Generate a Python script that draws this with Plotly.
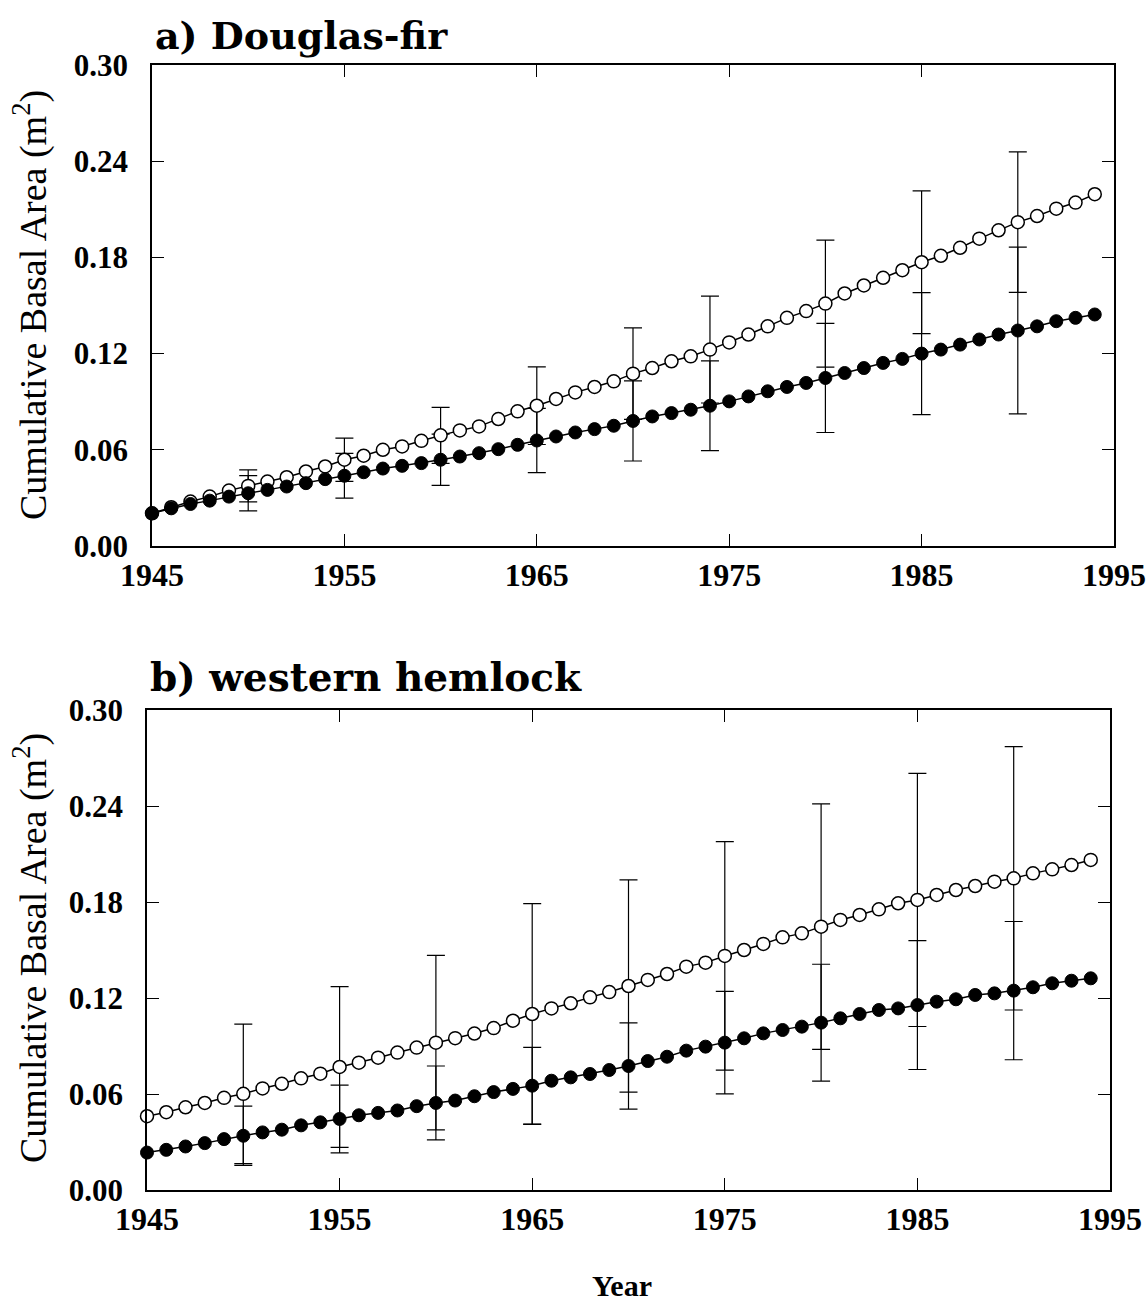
import plotly.graph_objects as go

years = list(range(1945, 1995))

# a) Douglas-fir
a_open = [0.0204, 0.0242, 0.0277, 0.0308, 0.0346, 0.0375, 0.0402, 0.0429, 0.0465, 0.0496,
          0.0538, 0.0563, 0.0600, 0.0621, 0.0656, 0.0690, 0.0721, 0.0746, 0.0792, 0.0840,
          0.0875, 0.0917, 0.0958, 0.0992, 0.1027, 0.1075, 0.1110, 0.1152, 0.1183, 0.1225,
          0.1270, 0.1319, 0.1370, 0.1423, 0.1465, 0.1512, 0.1575, 0.1625, 0.1673, 0.1720,
          0.1770, 0.1810, 0.1860, 0.1917, 0.1969, 0.2020, 0.2058, 0.2104, 0.2142, 0.2194]
a_filled = [0.0204, 0.0235, 0.0262, 0.0283, 0.0308, 0.0329, 0.0350, 0.0371, 0.0392, 0.0417,
            0.0438, 0.0460, 0.0483, 0.0500, 0.0517, 0.0538, 0.0558, 0.0579, 0.0604, 0.0631,
            0.0658, 0.0683, 0.0708, 0.0729, 0.0750, 0.0780, 0.0808, 0.0829, 0.0850, 0.0875,
            0.0902, 0.0933, 0.0965, 0.0992, 0.1017, 0.1048, 0.1079, 0.1110, 0.1142, 0.1167,
            0.1200, 0.1225, 0.1256, 0.1288, 0.1319, 0.1344, 0.1370, 0.1402, 0.1423, 0.1444]
a_err_years = [1950, 1955, 1960, 1965, 1970, 1974, 1980, 1985, 1990]
a_err_open = [0.010, 0.0135, 0.0175, 0.0242, 0.0285, 0.0333, 0.0396, 0.0445, 0.0438]
a_err_filled = [0.011, 0.0140, 0.0160, 0.0200, 0.0250, 0.0280, 0.0340, 0.0380, 0.0520]

# b) western hemlock
b_open = [0.0461, 0.0486, 0.0517, 0.0544, 0.0576, 0.0601, 0.0635, 0.0664, 0.0698, 0.0727,
          0.0769, 0.0796, 0.0827, 0.0859, 0.0890, 0.0921, 0.0949, 0.0978, 0.1012, 0.1058,
          0.1100, 0.1135, 0.1167, 0.1204, 0.1237, 0.1275, 0.1313, 0.1350, 0.1396, 0.1421,
          0.1463, 0.1500, 0.1538, 0.1579, 0.1604, 0.1646, 0.1688, 0.1719, 0.1754, 0.1792,
          0.1813, 0.1844, 0.1875, 0.1900, 0.1927, 0.1948, 0.1979, 0.2004, 0.2031, 0.2063]
b_filled = [0.0234, 0.0251, 0.0272, 0.0293, 0.0318, 0.0339, 0.0360, 0.0377, 0.0404, 0.0423,
            0.0444, 0.0467, 0.0482, 0.0497, 0.0524, 0.0544, 0.0559, 0.0586, 0.0612, 0.0632,
            0.0652, 0.0683, 0.0704, 0.0725, 0.0750, 0.0775, 0.0806, 0.0833, 0.0871, 0.0896,
            0.0921, 0.0948, 0.0979, 0.1000, 0.1021, 0.1046, 0.1073, 0.1100, 0.1125, 0.1135,
            0.1156, 0.1177, 0.1192, 0.1219, 0.1229, 0.1246, 0.1267, 0.1292, 0.1308, 0.1323]
b_err_years = [1950, 1955, 1960, 1965, 1970, 1975, 1980, 1985, 1990]
b_err_open = [0.0436, 0.0502, 0.0545, 0.0690, 0.0663, 0.0714, 0.0767, 0.0791, 0.0823]
b_err_filled = [0.0185, 0.0212, 0.0231, 0.0240, 0.0270, 0.0320, 0.0365, 0.0403, 0.0432]

x_ticks = [1945, 1955, 1965, 1975, 1985, 1995]
y_ticks = [0.00, 0.06, 0.12, 0.18, 0.24, 0.30]

W, H = 1148, 1304
fig = go.Figure()

panels = [
    ("x", "y", a_open, a_filled, a_err_years, a_err_open, a_err_filled),
    ("x2", "y2", b_open, b_filled, b_err_years, b_err_open, b_err_filled),
]

for xa, ya, op, fl, ey, eo, ef in panels:
    for series, errs in ((op, eo), (fl, ef)):
        yy = [series[years.index(v)] for v in ey]
        fig.add_trace(go.Scatter(
            x=ey, y=yy, mode="markers", xaxis=xa, yaxis=ya,
            marker=dict(size=2, color="rgba(0,0,0,0)"),
            error_y=dict(type="data", array=errs, visible=True, color="black",
                         thickness=1.2, width=9),
            showlegend=False, hoverinfo="skip", cliponaxis=False))
    fig.add_trace(go.Scatter(
        x=years, y=op, mode="lines+markers", xaxis=xa, yaxis=ya,
        line=dict(color="black", width=1.5),
        marker=dict(symbol="circle", size=13, color="white",
                    line=dict(color="black", width=1.5)),
        showlegend=False, cliponaxis=False))
    fig.add_trace(go.Scatter(
        x=years, y=fl, mode="lines+markers", xaxis=xa, yaxis=ya,
        line=dict(color="black", width=1.5),
        marker=dict(symbol="circle", size=13, color="black",
                    line=dict(color="black", width=1)),
        showlegend=False, cliponaxis=False))

tickfont_x = dict(family="Liberation Serif", size=32, color="black", weight="bold")
tickfont_y = dict(family="Liberation Serif", size=31, color="black", weight="bold")

def xaxis(domain, anchor):
    return dict(domain=domain, anchor=anchor, range=[1945, 1995], tickvals=x_ticks,
                ticks="inside", ticklen=12, tickwidth=1.2, tickcolor="black",
                showline=True, linecolor="black", linewidth=1.5, mirror="allticks",
                showgrid=False, zeroline=False, tickfont=tickfont_x,
                ticklabelstandoff=0, automargin=False)

def yaxis(domain, anchor):
    return dict(domain=domain, anchor=anchor, range=[0, 0.30], tickvals=y_ticks,
                tickformat=".2f", ticks="inside", ticklen=12, tickwidth=1.2,
                tickcolor="black", showline=True, linecolor="black", linewidth=1.5,
                mirror="allticks", showgrid=False, zeroline=False, tickfont=tickfont_y,
                ticklabelstandoff=16, automargin=False)

fig.update_layout(
    width=W, height=H,
    margin=dict(l=0, r=0, t=0, b=0),
    paper_bgcolor="white", plot_bgcolor="white",
    font=dict(family="Liberation Serif", color="black"),
    xaxis=xaxis([152 / W, 1114 / W], "y"),
    yaxis=yaxis([1 - 546 / H, 1 - 65 / H], "x"),
    xaxis2=xaxis([147 / W, 1110 / W], "y2"),
    yaxis2=yaxis([1 - 1190 / H, 1 - 710 / H], "x2"),
    annotations=[
        dict(text="a) Douglas-fir", x=153 / W, y=1 - 35 / H, xref="paper", yref="paper",
             xanchor="left", yanchor="middle", showarrow=False,
             font=dict(family="DejaVu Serif", size=38, color="black", weight="bold")),
        dict(text="b) western hemlock", x=148 / W, y=1 - 677 / H, xref="paper", yref="paper",
             xanchor="left", yanchor="middle", showarrow=False,
             font=dict(family="DejaVu Serif", size=39, color="black", weight="bold")),
        dict(text="Cumulative Basal Area (m<sup>2</sup>)", x=30 / W, y=1 - 305 / H,
             xref="paper", yref="paper", xanchor="center", yanchor="middle",
             textangle=-90, showarrow=False,
             font=dict(family="Liberation Serif", size=38, color="black")),
        dict(text="Cumulative Basal Area (m<sup>2</sup>)", x=30 / W, y=1 - 948 / H,
             xref="paper", yref="paper", xanchor="center", yanchor="middle",
             textangle=-90, showarrow=False,
             font=dict(family="Liberation Serif", size=38, color="black")),
        dict(text="<b>Year</b>", x=622 / W, y=1 - 1285 / H, xref="paper", yref="paper",
             xanchor="center", yanchor="middle", showarrow=False,
             font=dict(family="Liberation Serif", size=30, color="black")),
    ],
)

fig.write_html("out.html")
